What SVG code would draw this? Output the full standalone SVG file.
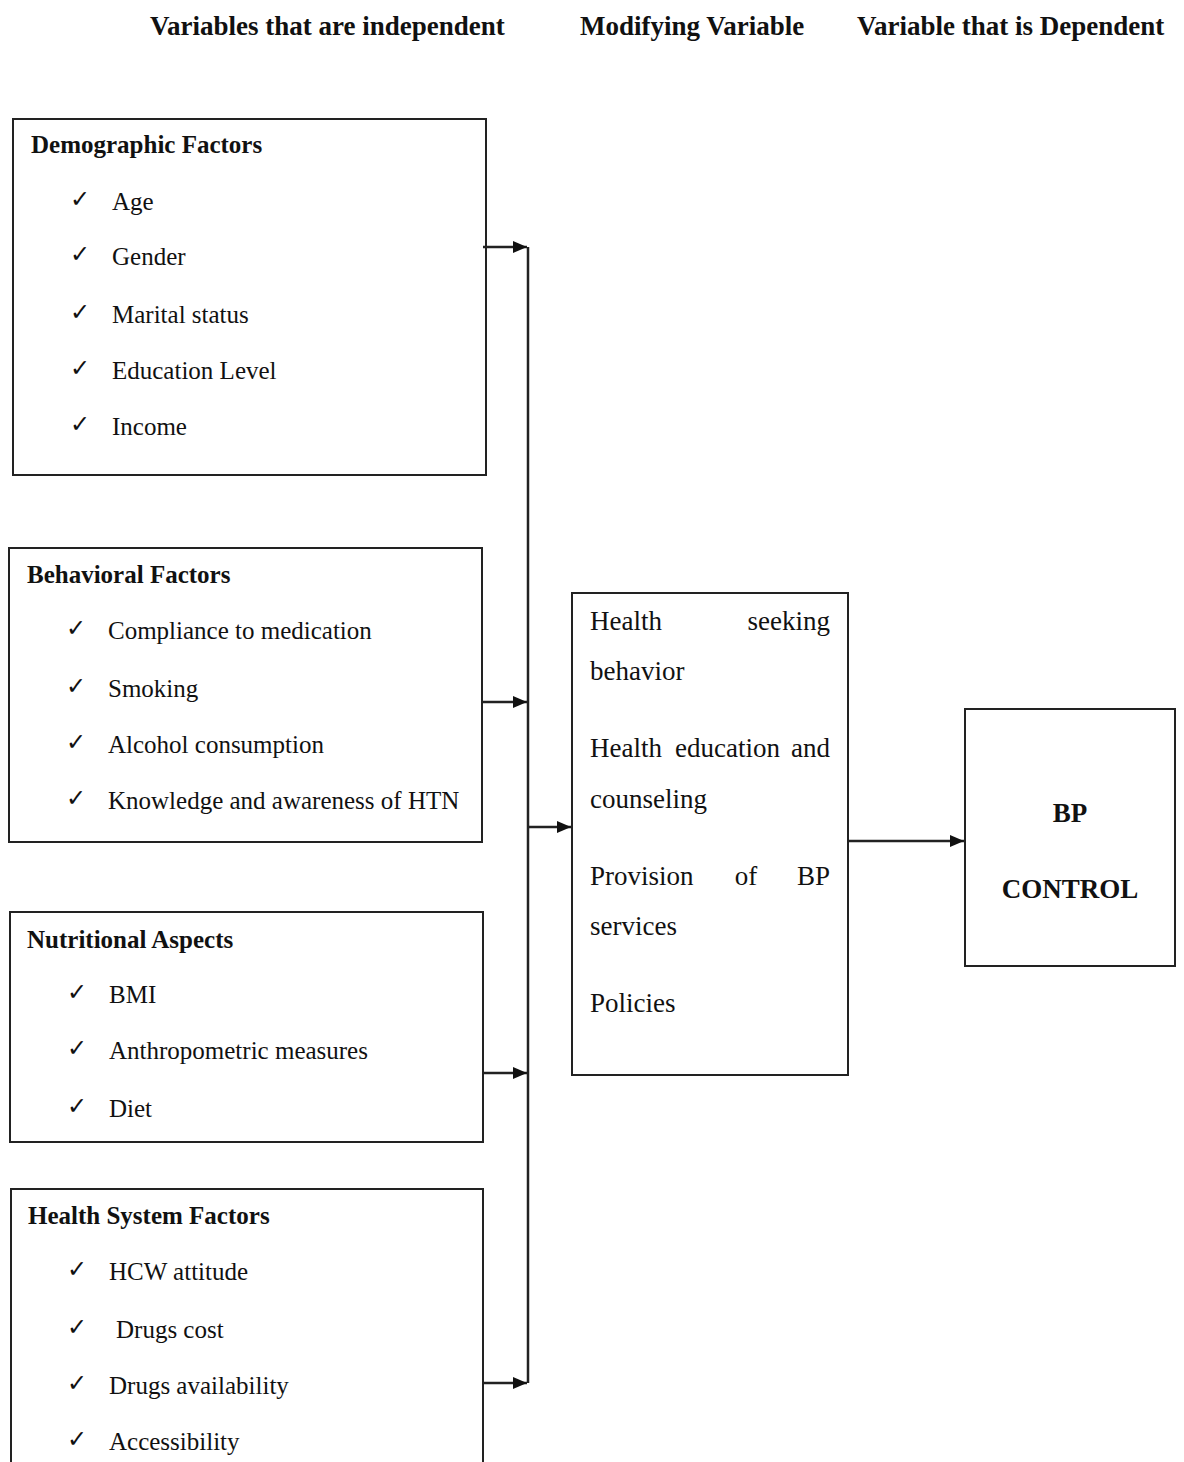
<svg xmlns="http://www.w3.org/2000/svg" width="1184" height="1462" viewBox="0 0 1184 1462">
<defs>
<style>
.box{fill:#fff;stroke:#222;stroke-width:2}
.hd{font-family:"Liberation Serif","Times New Roman","Tinos","Nimbus Roman","DejaVu Serif",serif;font-weight:bold;font-size:27px;fill:#111}
.tt{font-family:"Liberation Serif","Times New Roman","Tinos","Nimbus Roman","DejaVu Serif",serif;font-weight:bold;font-size:25px;fill:#111}
.it{font-family:"Liberation Serif","Times New Roman","Tinos","Nimbus Roman","DejaVu Serif",serif;font-weight:normal;font-style:normal;font-size:25px;fill:#111}
.mv{font-family:"Liberation Serif","Times New Roman","Tinos","Nimbus Roman","DejaVu Serif",serif;font-weight:normal;font-style:normal;font-size:27px;fill:#111}
.ck{font-family:"DejaVu Sans",sans-serif;font-weight:bold;font-size:24px;fill:#111}
.ln{fill:none;stroke:#222;stroke-width:2.5}
</style>
<marker id="ah" markerWidth="14" markerHeight="12" refX="14" refY="6" orient="auto" markerUnits="userSpaceOnUse">
<path d="M0,0 L14,6 L0,12 Z" fill="#111"/>
</marker>
</defs>
<rect width="1184" height="1462" fill="#fff"/>
<g id="headers">
<text class="hd" x="150" y="35">Variables that are independent</text>
<text class="hd" x="580" y="35">Modifying Variable</text>
<text class="hd" x="857" y="35">Variable that is Dependent</text>
</g>
<g id="demographic">
<rect class="box" x="13" y="119" width="473" height="356"/>
<text class="tt" x="31" y="153">Demographic Factors</text>
<text class="ck" x="70" y="207">✓</text><text class="it" x="112" y="210">Age</text>
<text class="ck" x="70" y="262">✓</text><text class="it" x="112" y="265">Gender</text>
<text class="ck" x="70" y="320">✓</text><text class="it" x="112" y="323">Marital status</text>
<text class="ck" x="70" y="376">✓</text><text class="it" x="112" y="379">Education Level</text>
<text class="ck" x="70" y="432">✓</text><text class="it" x="112" y="435">Income</text>
</g>
<g id="behavioral">
<rect class="box" x="9" y="548" width="473" height="294"/>
<text class="tt" x="27" y="583">Behavioral Factors</text>
<text class="ck" x="66" y="636">✓</text><text class="it" x="108" y="639">Compliance to medication</text>
<text class="ck" x="66" y="694">✓</text><text class="it" x="108" y="697">Smoking</text>
<text class="ck" x="66" y="750">✓</text><text class="it" x="108" y="753">Alcohol consumption</text>
<text class="ck" x="66" y="806">✓</text><text class="it" x="108" y="809">Knowledge and awareness of HTN</text>
</g>
<g id="nutritional">
<rect class="box" x="10" y="912" width="473" height="230"/>
<text class="tt" x="27" y="948">Nutritional Aspects</text>
<text class="ck" x="67" y="1000">✓</text><text class="it" x="109" y="1003">BMI</text>
<text class="ck" x="67" y="1056">✓</text><text class="it" x="109" y="1059">Anthropometric measures</text>
<text class="ck" x="67" y="1114">✓</text><text class="it" x="109" y="1117">Diet</text>
</g>
<g id="healthsystem">
<rect class="box" x="11" y="1189" width="472" height="300"/>
<text class="tt" x="28" y="1224">Health System Factors</text>
<text class="ck" x="67" y="1277">✓</text><text class="it" x="109" y="1280">HCW attitude</text>
<text class="ck" x="67" y="1335">✓</text><text class="it" x="116" y="1338">Drugs cost</text>
<text class="ck" x="67" y="1391">✓</text><text class="it" x="109" y="1394">Drugs availability</text>
<text class="ck" x="67" y="1447">✓</text><text class="it" x="109" y="1450">Accessibility</text>
</g>
<g id="modifying">
<rect class="box" x="572" y="593" width="276" height="482"/>
<text class="mv" x="590" y="630">Health</text>
<text class="mv" x="830" y="630" text-anchor="end">seeking</text>
<text class="mv" x="590" y="680">behavior</text>
<text class="mv" x="590" y="757">Health</text>
<text class="mv" x="675" y="757">education</text>
<text class="mv" x="830" y="757" text-anchor="end">and</text>
<text class="mv" x="590" y="808">counseling</text>
<text class="mv" x="590" y="885">Provision</text>
<text class="mv" x="746" y="885" text-anchor="middle">of</text>
<text class="mv" x="830" y="885" text-anchor="end">BP</text>
<text class="mv" x="590" y="935">services</text>
<text class="mv" x="590" y="1012">Policies</text>
</g>
<g id="bpcontrol">
<rect class="box" x="965" y="709" width="210" height="257"/>
<text class="hd" x="1070" y="822" text-anchor="middle">BP</text>
<text class="hd" x="1070" y="898" text-anchor="middle">CONTROL</text>
</g>
<g id="connectors">
<line class="ln" x1="528" y1="247" x2="528" y2="1383"/>
<line class="ln" x1="483" y1="247" x2="527" y2="247" marker-end="url(#ah)"/>
<line class="ln" x1="482" y1="702" x2="527" y2="702" marker-end="url(#ah)"/>
<line class="ln" x1="483" y1="1073" x2="527" y2="1073" marker-end="url(#ah)"/>
<line class="ln" x1="483" y1="1383" x2="527" y2="1383" marker-end="url(#ah)"/>
<line class="ln" x1="528" y1="827" x2="571" y2="827" marker-end="url(#ah)"/>
<line class="ln" x1="848" y1="841" x2="964" y2="841" marker-end="url(#ah)"/>
</g>
</svg>
